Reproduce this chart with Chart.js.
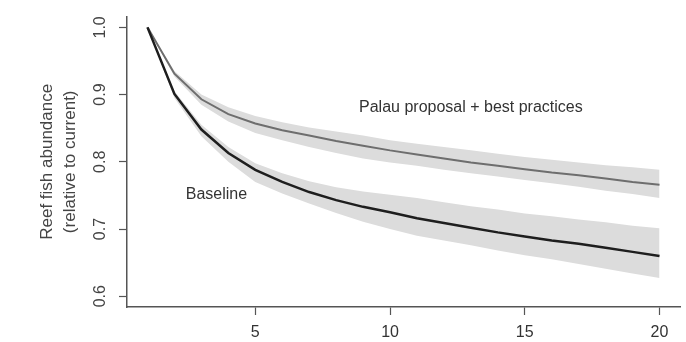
<!DOCTYPE html>
<html><head><meta charset="utf-8">
<script src="https://cdn.jsdelivr.net/npm/chart.js@4.4.0/dist/chart.umd.min.js"></script>
<style>html,body{margin:0;padding:0;background:#fff}</style>
</head><body>
<canvas id="c" width="686" height="342" style="display:block;width:686px;height:342px"></canvas>
<script>
const years = [1,2,3,4,5,6,7,8,9,10,11,12,13,14,15,16,17,18,19,20];
const baseline      = [1.000,0.901,0.848,0.813,0.788,0.770,0.755,0.743,0.733,0.725,0.716,0.709,0.702,0.695,0.689,0.683,0.678,0.672,0.666,0.660];
const baselineUpper = [1.000,0.905,0.855,0.822,0.798,0.783,0.771,0.762,0.756,0.751,0.746,0.740,0.734,0.729,0.723,0.719,0.714,0.710,0.705,0.701];
const baselineLower = [1.000,0.895,0.838,0.800,0.770,0.753,0.738,0.724,0.711,0.700,0.690,0.683,0.676,0.668,0.661,0.655,0.648,0.641,0.634,0.627];
const palau         = [1.000,0.931,0.893,0.871,0.857,0.847,0.839,0.831,0.824,0.817,0.811,0.805,0.799,0.794,0.789,0.784,0.780,0.775,0.770,0.766];
const palauUpper    = [1.000,0.935,0.900,0.881,0.868,0.859,0.851,0.845,0.839,0.832,0.827,0.822,0.817,0.812,0.807,0.803,0.799,0.795,0.792,0.788];
const palauLower    = [1.000,0.927,0.885,0.860,0.843,0.832,0.822,0.813,0.805,0.799,0.794,0.788,0.783,0.778,0.773,0.768,0.763,0.757,0.752,0.746];
const yTickValues = [0.6,0.7,0.8,0.9,1.0];
const xTickValues = [5,10,15,20];
const yTitle = ['Reef fish abundance','(relative to current)'];
const textLabels = [
  {text:'Palau proposal + best practices', x:8.85, y:0.881},
  {text:'Baseline', x:2.42, y:0.751}
];

const FONT = '"Liberation Sans", Arial, Helvetica, sans-serif';
const pts = arr => years.map((x,i)=>({x:x, y:arr[i]}));
const BAND = '#dcdcdc';

const textPlugin = {
  id:'textLabels',
  afterDatasetsDraw(chart){
    const ctx = chart.ctx, xs = chart.scales.x, ys = chart.scales.y;
    ctx.save();
    ctx.font = '16px ' + FONT;
    ctx.fillStyle = '#333';
    ctx.textAlign = 'left';
    ctx.textBaseline = 'middle';
    textLabels.forEach(l => ctx.fillText(l.text, xs.getPixelForValue(l.x), ys.getPixelForValue(l.y)));
    ctx.restore();
  }
};

new Chart(document.getElementById('c'), {
  type:'line',
  data:{datasets:[
    {data:pts(baseline), borderColor:'#1e1e1e', borderWidth:2.5, fill:false, pointRadius:0, tension:0},
    {data:pts(palau), borderColor:'#6e6e6e', borderWidth:2, fill:false, pointRadius:0, tension:0},
    {data:pts(palauUpper), borderWidth:0, borderColor:'rgba(0,0,0,0)', fill:false, pointRadius:0},
    {data:pts(palauLower), borderWidth:0, borderColor:'rgba(0,0,0,0)', backgroundColor:BAND, fill:'-1', pointRadius:0},
    {data:pts(baselineUpper), borderWidth:0, borderColor:'rgba(0,0,0,0)', fill:false, pointRadius:0},
    {data:pts(baselineLower), borderWidth:0, borderColor:'rgba(0,0,0,0)', backgroundColor:BAND, fill:'-1', pointRadius:0}
  ]},
  options:{
    responsive:false, animation:false, devicePixelRatio:1,
    layout:{padding:{left:0,right:6,top:12,bottom:0}},
    plugins:{legend:{display:false}, tooltip:{enabled:false}},
    scales:{
      x:{type:'linear', min:0.24, max:20.76,
        afterBuildTicks: s => { s.ticks = xTickValues.map(v=>({value:v})); },
        afterFit: s => { s.height = 35; },
        grid:{display:true, drawOnChartArea:false, drawTicks:true, tickLength:8, tickColor:'#555', tickWidth:1.2},
        border:{display:true, color:'#555', width:1.5},
        ticks:{color:'#333', font:{family:FONT, size:16}, padding:8, maxRotation:0, autoSkip:false, callback:v=>String(v)}
      },
      y:{type:'linear', min:0.584, max:1.016,
        afterBuildTicks: s => { s.ticks = yTickValues.map(v=>({value:v})); },
        afterFit: s => { s.width = 127; },
        grid:{display:true, drawOnChartArea:false, drawTicks:true, tickLength:8, tickColor:'#555', tickWidth:1.2},
        border:{display:true, color:'#555', width:1.5},
        ticks:{color:'#444', font:{family:FONT, size:16}, padding:7, minRotation:90, maxRotation:90, crossAlign:'center', autoSkip:false, callback:v=>Number(v).toFixed(1)},
        title:{display:true, text:yTitle, color:'#444', font:{family:FONT, size:17, lineHeight:1.353}, padding:{top:35.5, bottom:0}}
      }
    }
  },
  plugins:[textPlugin]
});
</script>
</body></html>
